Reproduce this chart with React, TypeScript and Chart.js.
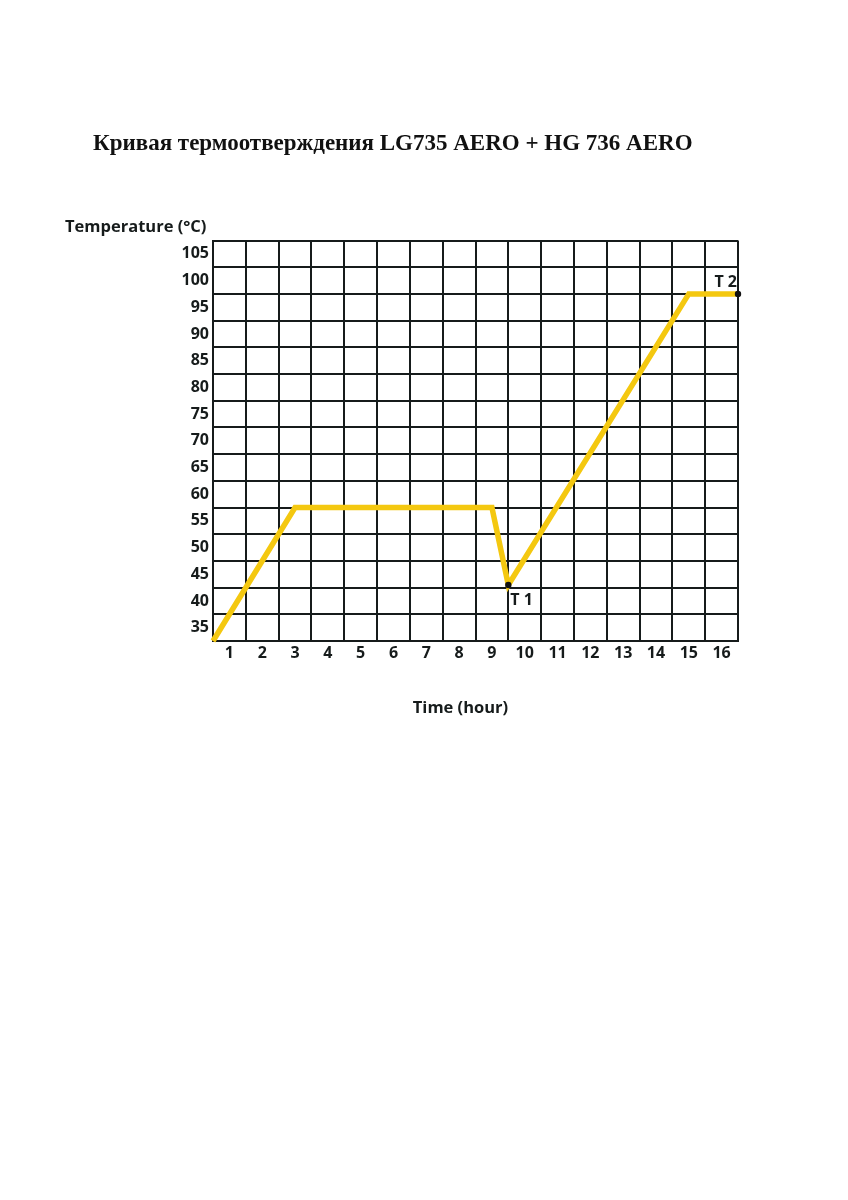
import React, { useEffect, useRef } from "react";
import { Chart, registerables } from "chart.js";

Chart.register(...registerables);

// ---- data ----
const chartTitle = "Кривая термоотверждения LG735 AERO + HG 736 AERO";
const yAxisTitle = "Temperature (°C)";
const xAxisTitle = "Time (hour)";

// cure curve (time in hours, temperature in °C)
const timeValues = [0.5, 3, 9, 9.5, 15, 16.5];
const tempValues = [32.5, 57.5, 57.5, 43, 97.5, 97.5];
const pointNames = ["", "", "", "T 1", "", "T 2"];

// tick labels (printed in the middle of each grid cell)
const xTickLabels = [1, 2, 3, 4, 5, 6, 7, 8, 9, 10, 11, 12, 13, 14, 15, 16];
const yTickLabels = [35, 40, 45, 50, 55, 60, 65, 70, 75, 80, 85, 90, 95, 100, 105];

// grid extents (cell boundaries)
const xMin = 0.5;
const xMax = 16.5;
const yMin = 32.5;
const yMax = 107.5;

const INK = "#161b1b";
const LINE_YELLOW = "#F4C810";
const SANS = "'Open Sans', 'DejaVu Sans', sans-serif";

const textPlugin = {
  id: "textPlugin",
  afterDatasetsDraw(chart: any) {
    const { ctx, chartArea } = chart;
    ctx.save();
    // main title
    ctx.fillStyle = "#111";
    ctx.font = "bold 23px 'Liberation Serif', 'Times New Roman', serif";
    ctx.textAlign = "left";
    ctx.textBaseline = "middle";
    ctx.fillText(chartTitle, 85, 136);

    // y axis title (horizontal, above axis)
    ctx.fillStyle = INK;
    ctx.font = `bold 16.5px ${SANS}`;
    ctx.textAlign = "left";
    ctx.textBaseline = "middle";
    ctx.fillText(yAxisTitle, chartArea.left - 148, chartArea.top - 13);

    // x axis title
    ctx.textAlign = "center";
    ctx.fillText(xAxisTitle, (chartArea.left + chartArea.right) / 2 - 15, chartArea.bottom + 67);

    // point labels T1 / T2
    ctx.font = `bold 16px ${SANS}`;
    const meta = chart.getDatasetMeta(0);
    meta.data.forEach((pt: any, i: number) => {
      const name = pointNames[i];
      if (!name) return;
      if (i === pointNames.length - 1) {
        ctx.textAlign = "right";
        ctx.fillText(name, pt.x - 1, pt.y - 11);
      } else {
        ctx.textAlign = "left";
        ctx.fillText(name, pt.x + 2, pt.y + 16);
      }
    });
    ctx.restore();
  },
};

export default function App() {
  const ref = useRef<HTMLCanvasElement | null>(null);

  useEffect(() => {
    if (!ref.current) return;
    const chart = new Chart(ref.current, {
      type: "line",
      data: {
        datasets: [
          {
            data: timeValues.map((t, i) => ({ x: t, y: tempValues[i] })),
            borderColor: LINE_YELLOW,
            borderWidth: 5.5,
            tension: 0,
            fill: false,
            clip: false as any,
            borderJoinStyle: "miter",
            pointRadius: pointNames.map((n) => (n ? 3.2 : 0)),
            pointBackgroundColor: "#111",
            pointBorderWidth: 0,
            xAxisID: "x",
            yAxisID: "y",
          },
        ],
      },
      options: {
        animation: false,
        responsive: false,
        events: [],
        layout: { padding: { left: 165, right: 102, top: 232.5, bottom: 77 } },
        plugins: {
          legend: { display: false },
          tooltip: { enabled: false },
          title: { display: false },
        },
        scales: {
          x: {
            type: "linear",
            position: "bottom",
            min: xMin,
            max: xMax,
            ticks: { display: false, stepSize: 1 },
            grid: { color: INK, lineWidth: 2, drawTicks: false },
            border: { display: true, color: INK, width: 2 },
            afterFit: (s: any) => {
              s.height = 0;
            },
          },
          xl: {
            type: "linear",
            position: "bottom",
            min: xMin,
            max: xMax,
            grid: { display: false, drawTicks: false },
            border: { display: false },
            afterBuildTicks: (s: any) => {
              s.ticks = xTickLabels.map((v) => ({ value: v }));
            },
            ticks: {
              autoSkip: false,
              maxRotation: 0,
              padding: 3,
              color: INK,
              font: { family: SANS, size: 16, weight: "bold" },
            },
            afterFit: (s: any) => {
              s.height = 30;
            },
          },
          y: {
            type: "linear",
            position: "left",
            min: yMin,
            max: yMax,
            ticks: { display: false, stepSize: 5 },
            grid: { color: INK, lineWidth: 2, drawTicks: false },
            border: { display: true, color: INK, width: 2 },
            afterFit: (s: any) => {
              s.width = 0;
            },
          },
          yl: {
            type: "linear",
            position: "left",
            min: yMin,
            max: yMax,
            grid: { display: false, drawTicks: false },
            border: { display: false },
            afterBuildTicks: (s: any) => {
              s.ticks = yTickLabels.map((v) => ({ value: v }));
            },
            ticks: {
              autoSkip: false,
              padding: 4,
              color: INK,
              font: { family: SANS, size: 16, weight: "bold" },
            },
            afterFit: (s: any) => {
              s.width = 40;
            },
          },
        },
      },
      plugins: [textPlugin],
    } as any);
    return () => chart.destroy();
  }, []);

  return (
    <div style={{ width: 832, height: 740 }}>
      <canvas ref={ref} width={832} height={740} style={{ width: 832, height: 740, display: "block" }} />
    </div>
  );
}
